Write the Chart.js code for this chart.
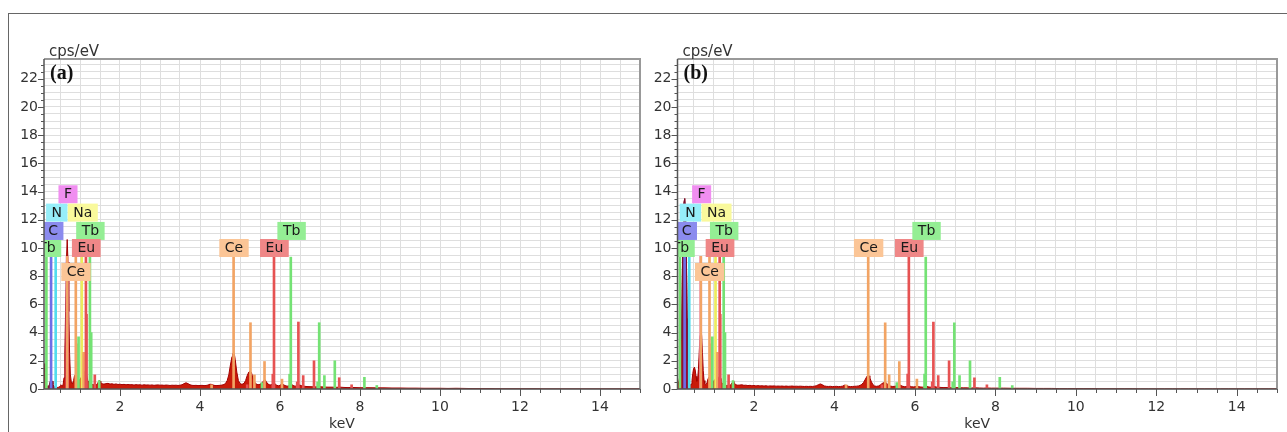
<!DOCTYPE html>
<html>
<head>
<meta charset="utf-8">
<script src="https://cdn.jsdelivr.net/npm/chart.js@4.4.0/dist/chart.umd.min.js"></script>
<style>
  html, body { margin: 0; padding: 0; background: #fff; }
  body { width: 1287px; height: 432px; position: relative; overflow: hidden; }
  #marco { position: absolute; left: 8px; top: 13px; width: 1300px; height: 440px;
           border-left: 1.5px solid #666; border-top: 1.5px solid #666; }
  canvas { position: absolute; top: 0; }
  #panel-a { left: 0; }
  #panel-b { left: 643px; }
</style>
</head>
<body>
<div id="marco"></div>
<canvas id="panel-a" width="650" height="432"></canvas>
<canvas id="panel-b" width="644" height="432"></canvas>
<script>
// Energía de cada canal del espectro (keV)
const energia = [
  0.10, 0.12, 0.14, 0.16, 0.18, 0.20, 0.22, 0.24, 0.26, 0.28,
  0.30, 0.32, 0.34, 0.36, 0.38, 0.40, 0.42, 0.44, 0.46, 0.48,
  0.50, 0.52, 0.54, 0.56, 0.58, 0.60, 0.62, 0.64, 0.66, 0.68,
  0.70, 0.72, 0.74, 0.76, 0.78, 0.80, 0.82, 0.84, 0.86, 0.88,
  0.90, 0.92, 0.94, 0.96, 0.98, 1.00, 1.02, 1.04, 1.06, 1.08,
  1.10, 1.12, 1.14, 1.16, 1.18, 1.20, 1.22, 1.24, 1.26, 1.28,
  1.30, 1.32, 1.34, 1.36, 1.38, 1.40, 1.42, 1.44, 1.46, 1.48,
  1.50, 1.52, 1.54, 1.56, 1.58, 1.60,
  1.65, 1.70, 1.75, 1.80, 1.85, 1.90, 1.95, 2.00, 2.05, 2.10,
  2.15, 2.20, 2.25, 2.30, 2.35, 2.40, 2.45, 2.50, 2.55, 2.60,
  2.65, 2.70, 2.75, 2.80, 2.85, 2.90, 2.95, 3.00, 3.05, 3.10,
  3.15, 3.20, 3.25, 3.30, 3.35, 3.40, 3.45, 3.50, 3.55, 3.60,
  3.65, 3.70, 3.75, 3.80, 3.85, 3.90, 3.95, 4.00, 4.05, 4.10,
  4.15, 4.20, 4.25, 4.30, 4.35, 4.40, 4.45, 4.50, 4.55, 4.60,
  4.64, 4.68, 4.72, 4.76, 4.80, 4.82, 4.84, 4.86, 4.88, 4.92,
  4.96, 5.00, 5.05, 5.10, 5.14, 5.18, 5.22, 5.25, 5.28, 5.31,
  5.35, 5.40, 5.45, 5.50, 5.55, 5.60, 5.63, 5.66, 5.70, 5.75,
  5.80, 5.84, 5.88, 5.92, 5.96, 6.00, 6.05, 6.10, 6.15, 6.20,
  6.25, 6.30, 6.35, 6.40, 6.45, 6.50, 6.55, 6.60, 6.65, 6.70,
  6.80, 6.90, 7.00, 7.10, 7.20, 7.30, 7.40, 7.50, 7.60, 7.70,
  7.80, 7.90, 8.00,
  8.2, 8.4, 8.6, 8.8, 9.0, 9.2, 9.4, 9.6, 9.8, 10.0,
  10.2, 10.4, 10.6, 10.8, 11.0, 11.2, 11.4, 11.6, 11.8, 12.0,
  12.2, 12.4, 12.6, 12.8, 13.0, 13.2, 13.4, 13.6, 13.8, 14.0,
  14.2, 14.4, 14.6, 14.8, 15.0
];

// Muestra (a): cps/eV
const cpsA = [
  1.8, 1.2, 0.6, 0.3, 0.2, 0.15, 0.2, 0.35, 0.55, 0.65,
  0.55, 0.35, 0.2, 0.15, 0.12, 0.15, 0.12, 0.1, 0.12, 0.15,
  0.2, 0.3, 0.25, 0.2, 0.35, 0.8, 2.5, 5.5, 9.0, 10.6,
  9.0, 5.5, 2.5, 1.0, 0.55, 0.4, 0.45, 0.6, 0.9, 1.0,
  0.85, 0.6, 0.5, 0.55, 0.6, 0.7, 0.8, 0.85, 0.75, 0.7,
  1.0, 1.25, 1.3, 1.1, 0.8, 0.55, 0.5, 0.55, 0.5, 0.4,
  0.35, 0.3, 0.3, 0.35, 0.3, 0.3, 0.35, 0.4, 0.5, 0.6,
  0.55, 0.45, 0.4, 0.38, 0.36, 0.35,
  0.38, 0.4, 0.35, 0.37, 0.33, 0.36, 0.32, 0.34, 0.31, 0.33,
  0.3, 0.32, 0.3, 0.31, 0.28, 0.31, 0.29, 0.3, 0.27, 0.3,
  0.28, 0.29, 0.27, 0.29, 0.26, 0.28, 0.29, 0.27, 0.28, 0.26,
  0.28, 0.27, 0.25, 0.27, 0.26, 0.27, 0.25, 0.27, 0.3, 0.38,
  0.44, 0.38, 0.3, 0.26, 0.25, 0.26, 0.24, 0.25, 0.26, 0.24,
  0.25, 0.28, 0.34, 0.32, 0.26, 0.24, 0.25, 0.26, 0.28, 0.32,
  0.4, 0.6, 1.0, 1.7, 2.3, 2.5, 2.6, 2.45, 2.1, 1.2,
  0.6, 0.38, 0.33, 0.4, 0.6, 0.95, 1.2, 1.25, 1.2, 0.95,
  0.55, 0.36, 0.3, 0.33, 0.42, 0.62, 0.65, 0.5, 0.35, 0.28,
  0.32, 0.45, 0.36, 0.26, 0.23, 0.26, 0.36, 0.28, 0.22, 0.2,
  0.26, 0.3, 0.22, 0.2, 0.3, 0.27, 0.22, 0.2, 0.18, 0.17,
  0.16, 0.15, 0.16, 0.14, 0.13, 0.13, 0.12, 0.13, 0.11, 0.1,
  0.11, 0.1, 0.09,
  0.09, 0.08, 0.08, 0.07, 0.07, 0.06, 0.06, 0.05, 0.05, 0.05,
  0.04, 0.05, 0.04, 0.03, 0.03, 0.03, 0.02, 0.02, 0.02, 0.02,
  0.02, 0.02, 0.01, 0.01, 0.01, 0.01, 0.01, 0.01, 0.01, 0.01,
  0.01, 0.01, 0.01, 0.01, 0.01
];

// Muestra (b): cps/eV
const cpsB = [
  0.8, 0.5, 0.3, 0.4, 1.0, 3.5, 8.0, 11.5, 13.2, 13.5,
  12.5, 9.5, 5.0, 2.0, 0.7, 0.35, 0.3, 0.35, 0.6, 1.1,
  1.45, 1.55, 1.35, 0.9, 0.55, 0.7, 1.4, 2.6, 3.8, 4.3,
  3.8, 2.6, 1.3, 0.6, 0.38, 0.3, 0.35, 0.5, 0.75, 0.85,
  0.7, 0.5, 0.4, 0.45, 0.5, 0.55, 0.65, 0.7, 0.6, 0.55,
  0.65, 0.8, 0.9, 0.75, 0.55, 0.45, 0.4, 0.45, 0.4, 0.35,
  0.3, 0.25, 0.25, 0.3, 0.25, 0.25, 0.3, 0.35, 0.45, 0.55,
  0.5, 0.4, 0.32, 0.3, 0.28, 0.27,
  0.28, 0.3, 0.26, 0.27, 0.24, 0.26, 0.23, 0.25, 0.22, 0.24,
  0.22, 0.23, 0.21, 0.23, 0.2, 0.22, 0.21, 0.22, 0.2, 0.21,
  0.2, 0.21, 0.19, 0.21, 0.19, 0.2, 0.21, 0.19, 0.2, 0.19,
  0.2, 0.19, 0.18, 0.19, 0.18, 0.19, 0.18, 0.2, 0.23, 0.3,
  0.36, 0.3, 0.22, 0.19, 0.18, 0.19, 0.17, 0.18, 0.19, 0.17,
  0.18, 0.2, 0.27, 0.25, 0.19, 0.17, 0.18, 0.19, 0.2, 0.22,
  0.26, 0.33, 0.45, 0.65, 0.85, 0.94, 0.98, 0.94, 0.8, 0.5,
  0.3, 0.21, 0.19, 0.22, 0.29, 0.38, 0.45, 0.47, 0.45, 0.37,
  0.27, 0.2, 0.18, 0.19, 0.22, 0.28, 0.29, 0.24, 0.19, 0.16,
  0.18, 0.24, 0.2, 0.16, 0.15, 0.16, 0.2, 0.16, 0.14, 0.13,
  0.16, 0.18, 0.14, 0.13, 0.18, 0.16, 0.13, 0.12, 0.11, 0.1,
  0.1, 0.09, 0.1, 0.09, 0.08, 0.08, 0.07, 0.08, 0.07, 0.06,
  0.07, 0.06, 0.06,
  0.06, 0.05, 0.05, 0.05, 0.04, 0.04, 0.04, 0.03, 0.03, 0.03,
  0.03, 0.03, 0.02, 0.02, 0.02, 0.02, 0.02, 0.01, 0.01, 0.01,
  0.01, 0.01, 0.01, 0.01, 0.01, 0.01, 0.01, 0.01, 0.01, 0.01,
  0.01, 0.01, 0.01, 0.01, 0.01
];

// Líneas de emisión marcadas (elemento, energía en keV, altura en cps/eV)
const lineasElem = [
  'Tb', 'C', 'N', 'F', 'Ce', 'Ce', 'Ce', 'Tb', 'Na', 'Ce', 'Eu', 'Eu', 'Tb', 'Tb', 'Eu', 'Tb',
  'Ce', 'Ce', 'Eu', 'Ce', 'Ce', 'Tb', 'Ce', 'Eu', 'Eu', 'Ce', 'Tb', 'Tb', 'Eu', 'Eu',
  'Eu', 'Eu', 'Tb', 'Tb', 'Tb', 'Tb', 'Eu', 'Eu', 'Tb', 'Tb'
];
const lineasKeV = [
  0.16, 0.277, 0.392, 0.677, 0.68, 0.895, 0.924, 0.964, 1.045, 1.09, 1.148, 1.163, 1.248, 1.28, 1.37, 1.48,
  4.29, 4.84, 5.18, 5.262, 5.36, 5.55, 5.613, 5.82, 5.85, 6.05, 6.24, 6.27, 6.43, 6.46,
  6.58, 6.85, 6.94, 6.98, 7.11, 7.37, 7.48, 7.79, 8.11, 8.42
];
const lineasCps = [
  9.4, 9.4, 9.4, 9.4, 9.4, 9.4, 3.2, 3.7, 9.4, 2.6, 9.4, 5.3, 9.4, 4.0, 1.0, 0.6,
  0.3, 9.4, 0.3, 4.7, 1.0, 0.45, 1.95, 1.05, 9.4, 0.7, 1.05, 9.35, 0.5, 4.75,
  0.95, 2.0, 0.5, 4.7, 0.95, 2.0, 0.8, 0.3, 0.83, 0.25
];

// Etiquetas de elementos (centro en keV, base de la caja en cps/eV)
const etiquetas = ['Tb', 'C', 'N', 'F', 'Na', 'Tb', 'Eu', 'Ce', 'Ce', 'Eu', 'Tb'];
const etiquetasKeV = [0.175, 0.326, 0.42, 0.70, 1.07, 1.26, 1.157, 0.90, 4.85, 5.86, 6.29];
const etiquetasCps = [9.36, 10.57, 11.87, 13.17, 11.87, 10.57, 9.36, 7.66, 9.36, 9.36, 10.57];

// Rótulos de los ejes
const xEtiquetas = [2, 4, 6, 8, 10, 12, 14];
const yEtiquetas = [0, 2, 4, 6, 8, 10, 12, 14, 16, 18, 20, 22];

const colorLinea = {
  Tb: '#74e274', C: '#6e6ee6', N: '#52dcee', F: '#ec7cec',
  Na: '#ecec5c', Eu: '#e65252', Ce: '#f2a464'
};
const colorCaja = {
  Tb: '#94ee94', C: '#8b8bee', N: '#96eef9', F: '#f08ef0',
  Na: '#f9f99c', Eu: '#ef8787', Ce: '#fbc596'
};

// Cajas de elementos, marco del gráfico, marcas de los ejes y textos
const decorPanel = {
  id: 'decorPanel',
  afterDatasetsDraw(chart) {
    const { ctx, chartArea: a, scales: { x, y } } = chart;
    ctx.save();
    ctx.beginPath();
    ctx.rect(a.left, a.top, a.right - a.left, a.bottom - a.top);
    ctx.clip();
    ctx.font = '14px "DejaVu Sans"';
    ctx.textAlign = 'center';
    ctx.textBaseline = 'middle';
    etiquetas.forEach((el, i) => {
      const cx = x.getPixelForValue(etiquetasKeV[i]);
      const yb = y.getPixelForValue(etiquetasCps[i]);
      const w = ctx.measureText(el).width + 11;
      ctx.fillStyle = colorCaja[el];
      ctx.fillRect(cx - w / 2, yb - 18, w, 18);
      ctx.fillStyle = '#1a1a1a';
      ctx.fillText(el, cx, yb - 8.5);
    });
    ctx.restore();
  },
  afterDraw(chart, args, opts) {
    const { ctx, chartArea: a, scales: { x, y } } = chart;
    ctx.save();

    // Marco
    ctx.strokeStyle = '#999';
    ctx.lineWidth = 2;
    ctx.beginPath();
    ctx.moveTo(a.left, a.top);
    ctx.lineTo(a.right, a.top);
    ctx.lineTo(a.right, a.bottom);
    ctx.stroke();
    ctx.strokeStyle = '#555';
    ctx.lineWidth = 1.5;
    ctx.beginPath();
    ctx.moveTo(a.left, a.top);
    ctx.lineTo(a.left, a.bottom);
    ctx.lineTo(a.right, a.bottom);
    ctx.stroke();

    // Marcas de los ejes
    ctx.lineWidth = 1;
    ctx.beginPath();
    x.ticks.forEach(t => {
      const px = Math.round(x.getPixelForValue(t.value)) + 0.5;
      const largo = xEtiquetas.includes(t.value) ? 7 : 4;
      ctx.moveTo(px, a.bottom);
      ctx.lineTo(px, a.bottom + largo);
    });
    y.ticks.forEach(t => {
      const py = Math.round(y.getPixelForValue(t.value)) + 0.5;
      const largo = yEtiquetas.includes(t.value) ? 6 : 3;
      ctx.moveTo(a.left - largo, py);
      ctx.lineTo(a.left, py);
    });
    ctx.stroke();

    // Textos
    ctx.fillStyle = '#333';
    ctx.textBaseline = 'middle';
    ctx.textAlign = 'left';
    ctx.font = '15px "DejaVu Sans"';
    ctx.fillText('cps/eV', a.left + 5, 52);
    ctx.textAlign = 'center';
    ctx.font = '14px "DejaVu Sans"';
    ctx.fillText('keV', (a.left + a.right) / 2, 424);
    ctx.textAlign = 'left';
    ctx.fillStyle = '#111';
    ctx.font = 'bold 20px "Liberation Serif"';
    ctx.fillText(opts.rotulo, a.left + 6, 74);
    ctx.restore();
  }
};

// Crear un panel del espectro EDS
function crearPanel(canvasId, cps, rotulo, anchoEjeY, padDerecha) {
  const espectro = energia.map((e, i) => ({ x: e, y: cps[i] }));
  const picoC = espectro.filter(p => p.x >= 0.2 && p.x <= 0.36);
  const lineas = lineasKeV.map((e, i) => ({ x: e, y: lineasCps[i] }));

  return new Chart(document.getElementById(canvasId), {
    type: 'line',
    data: {
      datasets: [
        {
          type: 'bar',
          data: lineas,
          backgroundColor: lineasElem.map(el => colorLinea[el]),
          borderWidth: 0,
          barThickness: 2,
          order: 1
        },
        {
          data: picoC,
          fill: 'origin',
          backgroundColor: '#8a1238',
          borderColor: '#761030',
          borderWidth: 1,
          pointRadius: 0,
          tension: 0,
          order: 2
        },
        {
          data: espectro,
          fill: 'origin',
          backgroundColor: '#c81a0a',
          borderColor: '#a30000',
          borderWidth: 1,
          pointRadius: 0,
          tension: 0,
          order: 3
        }
      ]
    },
    options: {
      responsive: false,
      animation: false,
      layout: { padding: { top: 59, right: padDerecha, left: 0, bottom: 0 } },
      plugins: {
        legend: { display: false },
        tooltip: { enabled: false },
        decorPanel: { rotulo }
      },
      scales: {
        x: {
          type: 'linear',
          min: 0.1,
          max: 15,
          offset: false,
          border: { display: false },
          grid: { color: '#dedede', lineWidth: 1, drawTicks: false, offset: false },
          ticks: {
            autoSkip: false,
            maxRotation: 0,
            padding: 10,
            color: '#333',
            font: { family: 'DejaVu Sans', size: 14 },
            callback: v => (xEtiquetas.includes(v) ? String(v) : '')
          },
          afterBuildTicks: s => {
            const ticks = [];
            for (let i = 1; i <= 30; i++) ticks.push({ value: i * 0.5 });
            s.ticks = ticks;
          },
          afterFit: s => { s.height = 43; }
        },
        y: {
          type: 'linear',
          min: 0,
          max: 23.4,
          border: { display: false },
          grid: { color: '#dedede', lineWidth: 1, drawTicks: false },
          ticks: {
            autoSkip: false,
            padding: 6,
            color: '#333',
            font: { family: 'DejaVu Sans', size: 14 },
            callback: v => (yEtiquetas.includes(v) ? String(v) : '')
          },
          afterBuildTicks: s => {
            const ticks = [];
            for (let i = 0; i <= 46; i++) ticks.push({ value: i * 0.5 });
            s.ticks = ticks;
          },
          afterFit: s => { s.width = anchoEjeY; }
        }
      }
    },
    plugins: [decorPanel]
  });
}

document.addEventListener('DOMContentLoaded', () => {
  crearPanel('panel-a', cpsA, '(a)', 44, 7);
  crearPanel('panel-b', cpsB, '(b)', 34.5, 10);
});
</script>
</body>
</html>
